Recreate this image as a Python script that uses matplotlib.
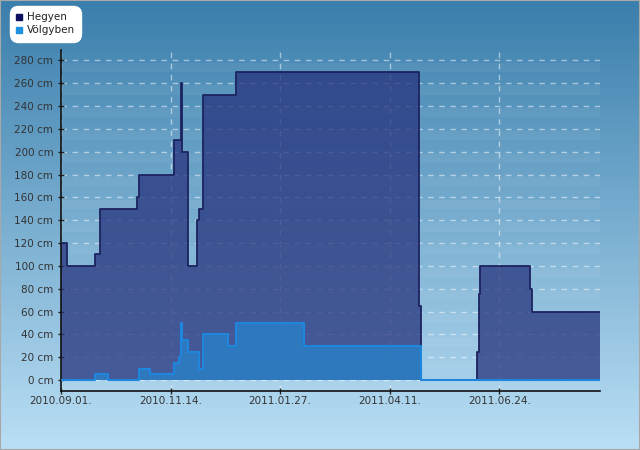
import numpy as np
import pandas as pd
import matplotlib
matplotlib.use("Agg")
import matplotlib.pyplot as plt
import matplotlib.dates as mdates
from matplotlib.lines import Line2D
from matplotlib.patches import Rectangle

# Hegyen (mountain) snow depth, cm - step changes
hegyen_dates = ["2010-09-01", "2010-09-05", "2010-09-24", "2010-09-27", "2010-10-22",
                "2010-10-24", "2010-11-16", "2010-11-21", "2010-11-22", "2010-11-26",
                "2010-12-02", "2010-12-03", "2010-12-06", "2010-12-28", "2011-05-01",
                "2011-05-02", "2011-06-09", "2011-06-10", "2011-06-11", "2011-07-15",
                "2011-07-16", "2011-08-31"]
hegyen_cm = [120, 100, 110, 150, 160, 180, 210, 260, 200, 100, 140, 150, 250, 270,
             65, 0, 25, 75, 100, 80, 60, 60]

# Völgyben (valley) snow depth, cm
volgy_dates = ["2010-09-01", "2010-09-24", "2010-10-03", "2010-10-24", "2010-10-31",
               "2010-11-16", "2010-11-20", "2010-11-21", "2010-11-22", "2010-11-26",
               "2010-12-03", "2010-12-06", "2010-12-23", "2010-12-28", "2011-02-12",
               "2011-05-02", "2011-08-31"]
volgy_cm = [0, 5, 0, 10, 5, 15, 20, 50, 35, 25, 10, 40, 30, 50, 30, 0, 0]

tick_dates = ["2010-09-01", "2010-11-14", "2011-01-27", "2011-04-11", "2011-06-24"]
y_ticks = list(range(0, 281, 20))

hx = pd.to_datetime(hegyen_dates)
vx = pd.to_datetime(volgy_dates)
tx = pd.to_datetime(tick_dates)

fig = plt.figure(figsize=(6.4, 4.5), dpi=100)

# gradient background
bg = fig.add_axes([0, 0, 1, 1], zorder=-10)
top = np.array([58, 126, 172]) / 255
bot = np.array([186, 223, 245]) / 255
t = np.linspace(0, 1, 256)[:, None]
grad = top[None, :] * (1 - t) + bot[None, :] * t
bg.imshow(grad[:, None, :], aspect="auto", extent=[0, 1, 0, 1])
bg.set_axis_off()
fig.patches.append(Rectangle((0, 0), 1, 1, transform=fig.transFigure, fill=False,
                             edgecolor="#a8a8a8", linewidth=1.5))

ax = fig.add_axes([61 / 640, 59 / 450, 539 / 640, 341 / 450])
ax.set_facecolor("none")

ax.set_xlim(hx[0], hx[-1])
ax.set_ylim(-9.5, 289)

# faint horizontal bands in the plot area
for yb in range(-10, 290, 20):
    ax.axhspan(yb, yb + 8, color="white", alpha=0.05, lw=0, zorder=0)

ax.grid(True, axis="both", color="white", alpha=0.5, linestyle=(0, (4, 4)),
        linewidth=1)
ax.set_axisbelow(True)

ax.fill_between(hx, hegyen_cm, 0, step="post", color=(0.15, 0.2, 0.49),
                alpha=0.75, lw=0, zorder=2)
ax.step(hx, hegyen_cm, where="post", color="#1c2360", lw=1.3, zorder=3)

ax.fill_between(vx, volgy_cm, 0, step="post", color="#2c7bc2", alpha=0.92,
                lw=0, zorder=4)
ax.step(vx, volgy_cm, where="post", color="#1e86dc", lw=1.5, zorder=5)

ax.set_yticks(y_ticks)
ax.set_yticklabels([f"{v} cm" for v in y_ticks])
ax.set_xticks(tx)
ax.xaxis.set_major_formatter(mdates.DateFormatter("%Y.%m.%d."))

for s in ["top", "right"]:
    ax.spines[s].set_visible(False)
for s in ["left", "bottom"]:
    ax.spines[s].set_color("#111111")
    ax.spines[s].set_linewidth(1.2)

ax.tick_params(axis="both", direction="inout", length=5, width=1,
               color="#222222", labelsize=7.5, labelcolor="#333333")
ax.tick_params(axis="y", pad=3)
ax.tick_params(axis="x", pad=1)

handles = [Line2D([], [], marker="s", ls="", color="#0d1060", markersize=5),
           Line2D([], [], marker="s", ls="", color="#1e90e0", markersize=5)]
leg = fig.legend(handles, ["Hegyen", "Völgyben"], loc="upper left",
                 bbox_to_anchor=(10 / 640, 1 - 6 / 450), fontsize=7.5,
                 handlelength=0.6, handletextpad=0.4, borderpad=0.6,
                 labelspacing=0.3, frameon=True, fancybox=True,
                 borderaxespad=0)
leg.get_frame().set_facecolor("white")
leg.get_frame().set_edgecolor("white")
leg.get_frame().set_alpha(1)
leg.get_frame().set_boxstyle("round", pad=0, rounding_size=0.8)
for txt in leg.get_texts():
    txt.set_color("#222222")

fig.savefig("out.png", dpi=100)
